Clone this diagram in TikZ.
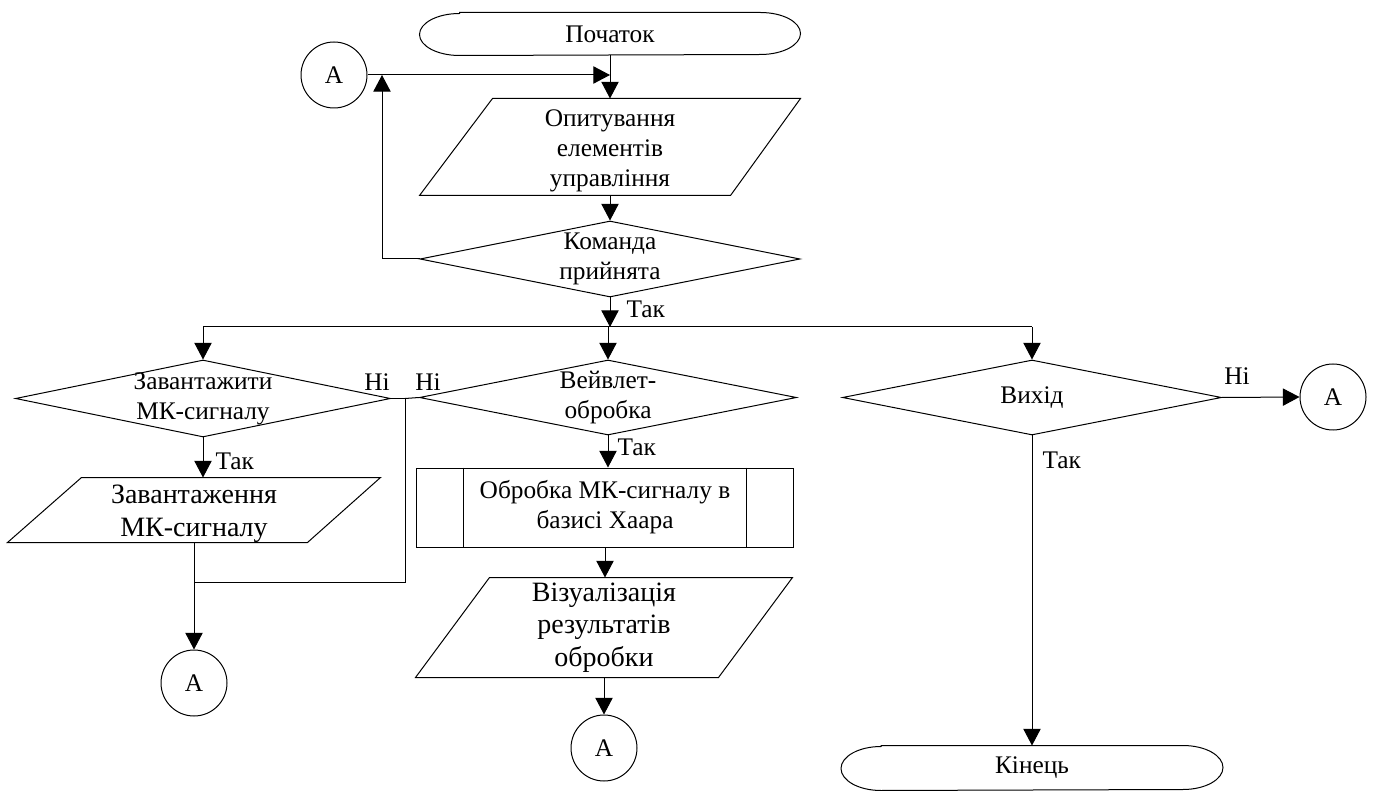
\documentclass[tikz,border=0pt]{standalone}
\usepackage{fontspec}
\setmainfont{Liberation Serif}
\usetikzlibrary{shapes.geometric,arrows.meta,calc}
\tikzset{
  every node/.style={font=\fontsize{19}{22.5}\selectfont, inner sep=0pt, align=center},
  dec/.style={draw, diamond},
  frame/.style={rectangle},
  con/.style={draw, circle, minimum size=0.75*66pt},
  big/.style={font=\fontsize{21}{24.5}\selectfont},
  arr/.style={-{Triangle[width=13pt,length=12.5pt]}},
}
\begin{document}
\begin{tikzpicture}[x=0.75pt,y=-0.75pt,line width=0.75pt]
\useasboundingbox (0,0) rectangle (1378,791);

% ---------- top column ----------
\node[frame, minimum width=0.75*380pt, minimum height=0.75*42pt] (start) at (610,34) {Початок};
\draw ($(start.north west)+(30pt,0)$) -- ($(start.north east)+(-30pt,0)$)
  arc[start angle=90,end angle=-90,x radius=30pt,y radius=15.75pt]
  -- ($(start.south west)+(30pt,0)$)
  arc[start angle=270,end angle=90,x radius=30pt,y radius=15.75pt] -- cycle;

\node[frame, minimum width=0.75*380pt, minimum height=0.75*96pt,
  label={[yshift=-3pt]center:Опитування\\елементів\\управління}] (q1) at (610,147) {};
\draw ($(q1.north west)+(73,0)$) -- (q1.north east) -- ($(q1.south east)+(-70,0)$) -- (q1.south west) -- cycle;

\node[dec, minimum width=0.75*380pt, minimum height=0.75*76pt,
  label={center:Команда\\прийнята}] (d0) at (610,259) {};

\node[con] (a0) at (334,75) {А};

% ---------- left column ----------
\node[dec, minimum width=0.75*375pt, minimum height=0.75*77pt,
  label={center:Завантажити\\МК-сигналу}] (d1) at (203,398.5) {};
\node[frame, minimum width=0.75*372pt, minimum height=0.75*64pt,
  label={[big,yshift=-3pt]center:Завантаження\\МК-сигналу}] (p1) at (194,510) {};
\draw ($(p1.north west)+(74,0)$) -- (p1.north east) -- ($(p1.south east)+(-73,0)$) -- (p1.south west) -- cycle;
\node[con] (a1) at (194,683) {А};

% ---------- middle column ----------
\node[dec, minimum width=0.75*377pt, minimum height=0.75*75pt,
  label={center:Вейвлет-\\обробка}] (d2) at (608,397.5) {};
\node[draw, rectangle, minimum width=0.75*377pt, minimum height=0.75*79pt] (box) at (605,507.5) {Обробка МК-сигналу в\\базисі Хаара};
\draw ($(box.north west)+(47,0)$) -- ($(box.south west)+(47,0)$);
\draw ($(box.north east)+(-48,0)$) -- ($(box.south east)+(-48,0)$);
\node[frame, big, minimum width=0.75*376pt, minimum height=0.75*99pt] (vis) at (604,627.5) {Візуалізація\\результатів\\обробки};
\draw ($(vis.north west)+(74,0)$) -- (vis.north east) -- ($(vis.south east)+(-74,0)$) -- (vis.south west) -- cycle;
\node[con] (a2) at (604,748) {А};

% ---------- right column ----------
\node[dec, minimum width=0.75*379pt, minimum height=0.75*75pt,
  label={center:Вихід}] (d3) at (1032,397.5) {};
\node[con] (a3) at (1333,397) {А};
\node[frame, minimum width=0.75*381pt, minimum height=0.75*44pt] (fin) at (1032,768) {Кінець};
\draw ($(fin.north west)+(30pt,0)$) -- ($(fin.north east)+(-30pt,0)$)
  arc[start angle=90,end angle=-90,x radius=30pt,y radius=16.5pt]
  -- ($(fin.south west)+(30pt,0)$)
  arc[start angle=270,end angle=90,x radius=30pt,y radius=16.5pt] -- cycle;

% ---------- connectors ----------
\coordinate (up) at (382,75);
\coordinate (bus) at (610,327);
\coordinate (j1) at (405,398.5);
\coordinate (j2) at (194,582);

\draw[arr] (start.south) -- (start.south |- q1.north);
\draw[arr] (a0.east) -- (a0.east -| q1.north);
\draw[arr] (q1.south) -- (d0.north);
\draw[arr] (d0.west) -| (up);
\draw[arr] (d0.south) -- (bus);
\draw (d1.north |- bus) -- (d3.north |- bus);
\draw[arr] (d1.north |- bus) -- (d1.north);
\draw[arr] (d2.north |- bus) -- (d2.north);
\draw[arr] (d3.north |- bus) -- (d3.north);

\draw[arr] (d1.south) -- (d1.south |- p1.north);
\draw (d1.east) -- (j1);
\draw (d2.west) -- (j1);
\draw (j1) |- (j2);
\draw[arr] (p1.south) -- (a1.north);

\draw[arr] (d2.south) -- (d2.south |- box.north);
\draw[arr] (box.south) -- (box.south |- vis.north);
\draw[arr] (vis.south) -- (a2.north);

\draw[arr] (d3.east) -- (a3.west);
\draw[arr] (d3.south) -- (fin.north);

% ---------- branch labels ----------
\node[anchor=west] (t0) at (626,309) {Так};
\node (n1) at (377,382) {Ні};
\node (n2) at (428,382) {Ні};
\node[anchor=west] (t1) at (215,461) {Так};
\node[anchor=west] (t2) at (617,447) {Так};
\node (n3) at (1237,376) {Ні};
\node[anchor=west] (t3) at (1042,460) {Так};
\end{tikzpicture}
\end{document}
